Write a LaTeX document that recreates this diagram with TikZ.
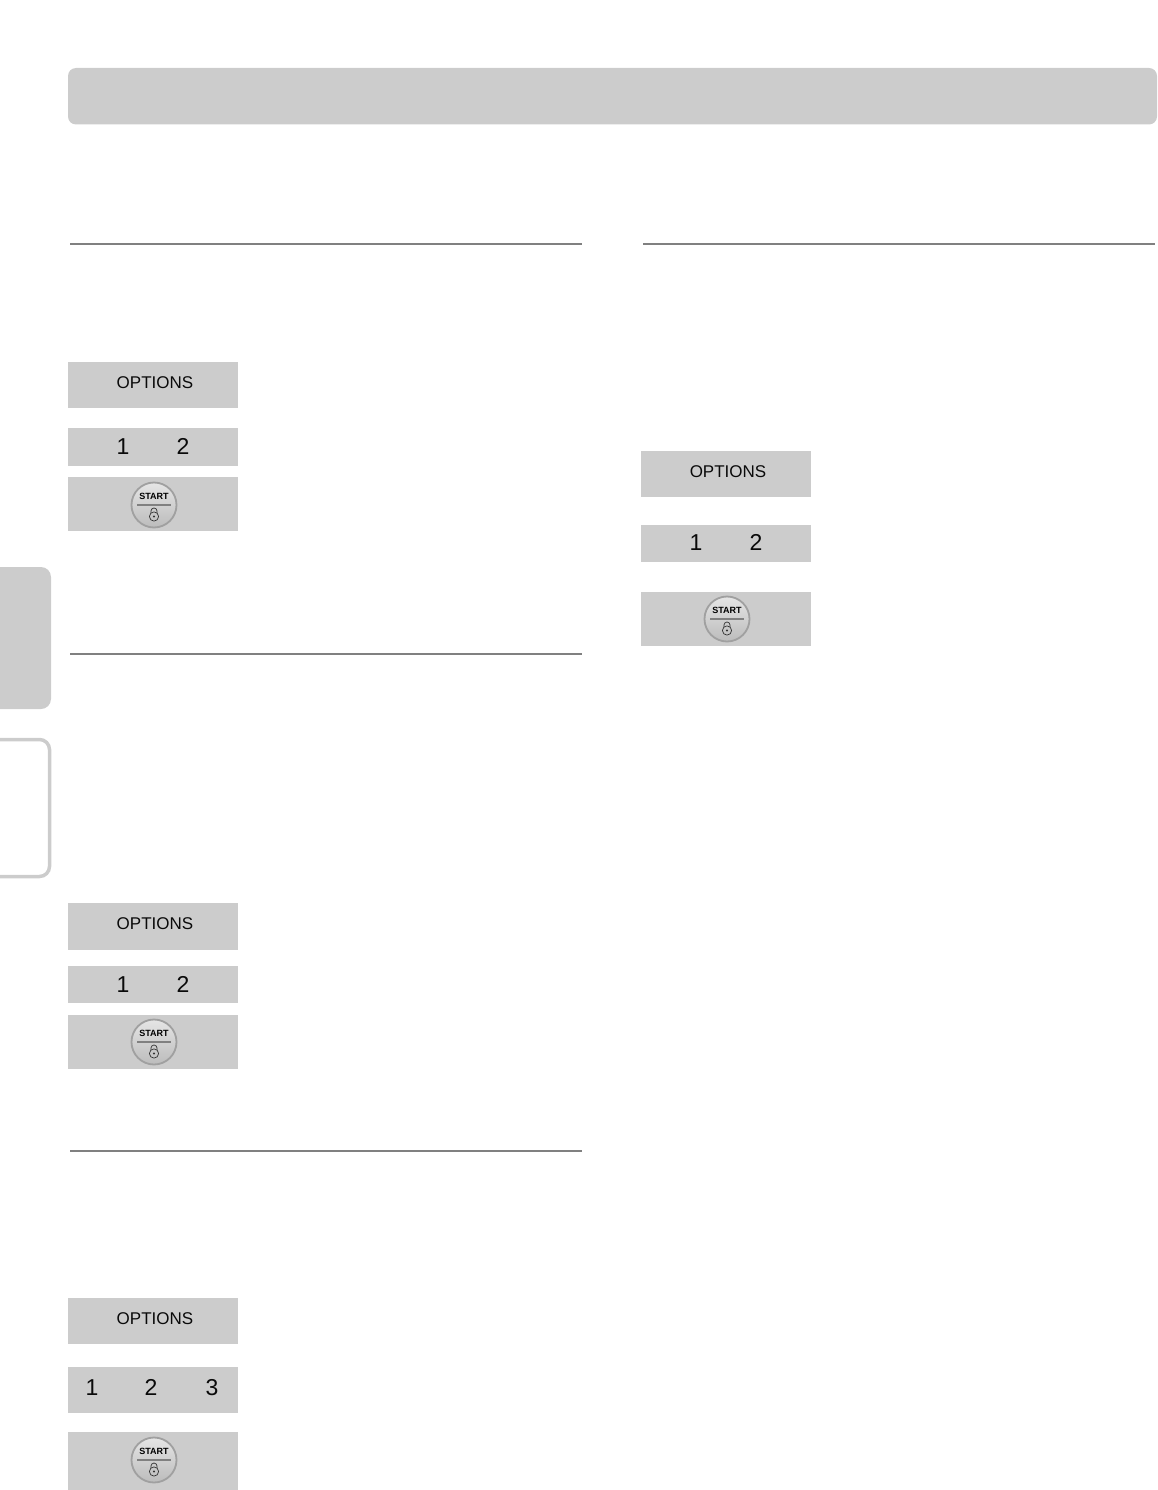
\documentclass[tikz,border=0pt]{standalone}
\usepackage{xcolor}
\usepackage{fontspec}
\setmainfont{Liberation Sans}
\usetikzlibrary{positioning, calc}
\definecolor{panelgray}{RGB}{204,204,204}
\definecolor{rulegray}{RGB}{128,128,128}
\definecolor{keytext}{RGB}{10,10,10}
\tikzset{
  startkey/.pic={
    \node [circle, draw=rulegray!75, line width=1.8pt, minimum size=45pt, inner sep=0pt, top color=white!90!black, bottom color=panelgray!92!black] (-disc) at (0,0) {};
    \node [font=\bfseries\fontsize{9}{9}\selectfont, inner sep=0pt, text=black] (-label) at (0,-8.5) {START};
    \draw [rulegray, line width=1.5pt] (-17,0) -- (17,0);
    \draw [black!80, line width=0.7pt] (0,11.5) circle (4.6);
    \draw [black!80, line width=0.7pt] (-3,8) -- (-3,6) arc (180:360:3) -- (3,8);
    \fill [black!80] (0,11.5) circle (1.2);
  }
}
\begin{document}
\begin{tikzpicture}[x=1pt, y=-1pt, node distance=20pt]
  \tikzstyle{optionsbar} = [rectangle, fill=panelgray, minimum width=170pt, minimum height=46pt, inner sep=0pt]
  \tikzstyle{digitbar} = [rectangle, fill=panelgray, minimum width=170pt, minimum height=37pt, inner sep=0pt]
  \tikzstyle{startbar} = [rectangle, fill=panelgray, minimum width=170pt, minimum height=54pt, inner sep=0pt]
  \tikzstyle{keylabel} = [inner sep=0pt, text=keytext, font=\fontsize{17}{17}\selectfont]
  \tikzstyle{digitlabel} = [inner sep=0pt, text=keytext, font=\fontsize{23}{23}\selectfont]
  \tikzstyle{sectionrule} = [draw=rulegray, line width=1.5pt]

  \useasboundingbox (0,0) rectangle (1157,1490);

  % header band and side tabs
  \fill [panelgray, rounded corners=8pt] (68,68) rectangle (1157,124.5);
  \fill [panelgray, rounded corners=10pt] (0,567) -- (51,567) -- (51,709) -- (0,709);
  \fill [panelgray] (0,567) rectangle (20,709);
  \draw [panelgray, line width=3.5pt, rounded corners=10pt] (0,739.5) -- (49.5,739.5) -- (49.5,876.5) -- (0,876.5);

  % section rules
  \draw [sectionrule] (70,244) -- (582,244);
  \draw [sectionrule] (643,244) -- (1155,244);
  \draw [sectionrule] (70,654) -- (582,654);
  \draw [sectionrule] (70,1151) -- (582,1151);

  % first column, top
  \node [optionsbar] (optionsA) at (153,385) {};
  \node [digitbar, minimum height=38pt, below=20pt of optionsA] (digitsA) {};
  \node [startbar, below=10.5pt of digitsA] (startA) {};
  \node [keylabel] (optionsAtext) at ([xshift=2pt,yshift=2.5pt]optionsA.center) {OPTIONS};
  \node [digitlabel] (oneA) at ([xshift=-30pt,yshift=0.5pt]digitsA.center) {1};
  \node [digitlabel] (twoA) at ([xshift=30pt,yshift=0.5pt]digitsA.center) {2};
  \pic (keyA) at (154,505) {startkey};

  % second column
  \node [optionsbar] (optionsB) at (726,474) {};
  \node [digitbar, below=28pt of optionsB] (digitsB) {};
  \node [startbar, below=29.5pt of digitsB] (startB) {};
  \node [keylabel] (optionsBtext) at ([xshift=2pt,yshift=2.5pt]optionsB.center) {OPTIONS};
  \node [digitlabel] (oneB) at ([xshift=-30pt,yshift=1pt]digitsB.center) {1};
  \node [digitlabel] (twoB) at ([xshift=30pt,yshift=1pt]digitsB.center) {2};
  \pic (keyB) at (727,619) {startkey};

  % first column, middle
  \node [optionsbar, minimum height=47pt] (optionsC) at (153,926.5) {};
  \node [digitbar, below=16pt of optionsC] (digitsC) {};
  \node [startbar, below=11.5pt of digitsC] (startC) {};
  \node [keylabel] (optionsCtext) at ([xshift=2pt,yshift=3pt]optionsC.center) {OPTIONS};
  \node [digitlabel] (oneC) at ([xshift=-30pt]digitsC.center) {1};
  \node [digitlabel] (twoC) at ([xshift=30pt]digitsC.center) {2};
  \pic (keyC) at (154,1042) {startkey};

  % first column, bottom
  \node [optionsbar] (optionsD) at (153,1321) {};
  \node [optionsbar, below=23pt of optionsD] (digitsD) {};
  \node [startbar, minimum height=58pt, below=18.5pt of digitsD] (startD) {};
  \node [keylabel] (optionsDtext) at ([xshift=2pt,yshift=2.5pt]optionsD.center) {OPTIONS};
  \node [digitlabel] (oneD) at ([xshift=-61pt,yshift=3pt]digitsD.center) {1};
  \node [digitlabel] (twoD) at ([xshift=-2pt,yshift=3pt]digitsD.center) {2};
  \node [digitlabel] (threeD) at ([xshift=59pt,yshift=3pt]digitsD.center) {3};
  \pic (keyD) at (154,1460) {startkey};
\end{tikzpicture}
\end{document}
